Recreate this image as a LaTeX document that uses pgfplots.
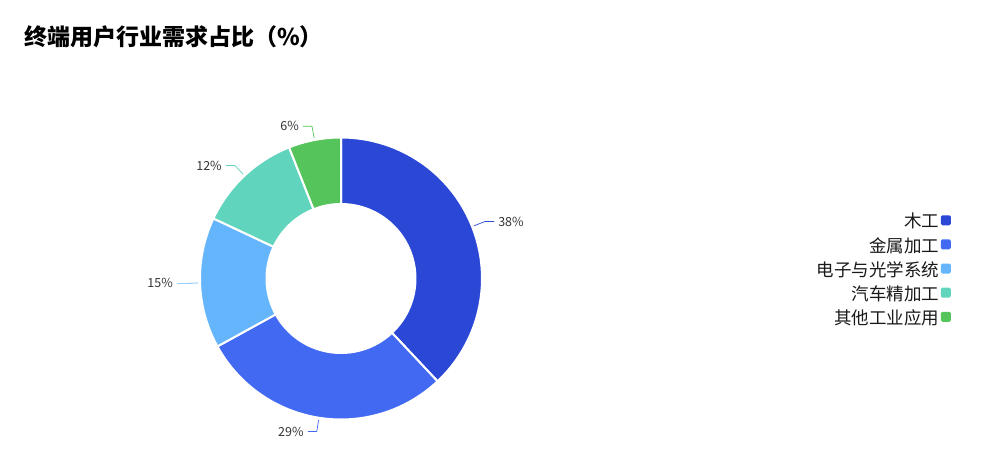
\documentclass[border=0pt]{standalone}
\usepackage{fontspec}
\setmainfont{Noto Sans CJK SC}
\usepackage{pgfplots}
\pgfplotsset{compat=1.18}
\definecolor{c1}{HTML}{2B47D6}
\definecolor{c2}{HTML}{4269F2}
\definecolor{c3}{HTML}{64B5FC}
\definecolor{c4}{HTML}{60D4BD}
\definecolor{c5}{HTML}{55C45A}
\definecolor{lbl}{HTML}{333333}
\tikzset{pl/.style={font=\fontsize{12.5pt}{14pt}\selectfont, text=lbl, inner sep=0pt}}
% #1 start (cumulative %), #2 value (%), #3 colour
\newcommand\slice[3]{%
 \addplot[fill=#3, draw=white, line width=2pt, line join=round, samples at={0,1,...,101}, variable=\t]
 ({341+(\t<51 ? 141 : 74.5)*cos(90-3.6*(\t<51 ? #1+(#2)*\t/50 : #1+#2-(#2)*(\t-51)/50))},
  {278.5-(\t<51 ? 141 : 74.5)*sin(90-3.6*(\t<51 ? #1+(#2)*\t/50 : #1+#2-(#2)*(\t-51)/50))}) -- cycle;
}
% #1 start, #2 value, #3 colour
\newcommand\plabel[3]{%
 \pgfmathsetmacro\mm{90-3.6*(#1+#2/2)}%
 \pgfmathsetmacro\xa{341+143*cos(\mm)}%
 \pgfmathsetmacro\ya{278.5-143*sin(\mm)}%
 \pgfmathsetmacro\xb{341+155*cos(\mm)}%
 \pgfmathsetmacro\yb{278.5-155*sin(\mm)}%
 \pgfmathsetmacro\sg{cos(\mm)>=0 ? 1 : -1}%
 \pgfmathsetmacro\xc{\xb+9*\sg}%
 \pgfmathsetmacro\xd{\xb+13*\sg}%
 \edef\doit{\noexpand\draw[#3, line width=0.7pt] (axis cs:\xa,\ya) -- (axis cs:\xb,\yb) -- (axis cs:\xc,\yb);
  \noexpand\node[pl, anchor=\ifdim\sg pt>0pt west\else east\fi] at (axis cs:\xd,\yb) {#2\noexpand\%};}%
 \doit
}
\begin{document}
\begin{tikzpicture}
\begin{axis}[scale only axis, width=989pt, height=454pt,
  xmin=0, xmax=989, ymin=0, ymax=454, y dir=reverse,
  hide axis, clip=false,
  legend cell align=right,
  legend plot pos=right,
  legend style={draw=none, fill=none, at={(axis cs:951,211.5)}, anchor=north east,
    font=\fontsize{17.5pt}{19pt}\selectfont, text=black!90, inner sep=0pt, row sep=4.8pt,
    nodes={inner sep=1.5pt}},
  legend image code/.code={\fill[#1, draw=none, rounded corners=1.5pt] (0pt,-4pt) rectangle (10pt,6pt);}
]
\path (axis cs:0,0) rectangle (axis cs:989,454);
\slice{0}{38}{c1}\addlegendentry{木工}
\slice{38}{29}{c2}\addlegendentry{金属加工}
\slice{67}{15}{c3}\addlegendentry{电子与光学系统}
\slice{82}{12}{c4}\addlegendentry{汽车精加工}
\slice{94}{6}{c5}\addlegendentry{其他工业应用}
\plabel{0}{38}{c1}
\plabel{38}{29}{c2}
\plabel{67}{15}{c3}
\plabel{82}{12}{c4}
\plabel{94}{6}{c5}
\node[anchor=west, inner sep=0pt, font=\fontsize{23pt}{26pt}\selectfont\bfseries] at (axis cs:24,37) {终端用户行业需求占比（\%）};
\end{axis}
\end{tikzpicture}
\end{document}
